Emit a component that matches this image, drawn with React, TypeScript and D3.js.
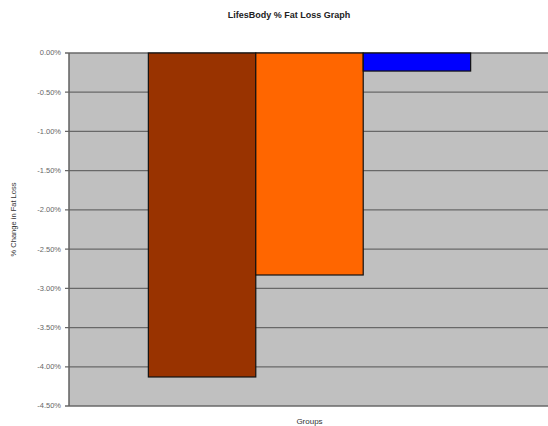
import React from "react";
import * as d3 from "d3";

const categories = ["Groups"];
const seriesNames = ["Series 1", "Series 2", "Series 3"];
const seriesValues = [-4.13, -2.83, -0.23];
const seriesColors = ["#993300", "#FF6600", "#0000FF"];
const yTicks = [0, -0.5, -1, -1.5, -2, -2.5, -3, -3.5, -4, -4.5];

const W = 548;
const H = 426;
const plot = { left: 69, right: 548, top: 53, bottom: 406 };

export default function App() {
  const y = d3.scaleLinear().domain([0, -4.5]).range([plot.top, plot.bottom]);
  const x0 = d3
    .scaleBand<string>()
    .domain(categories)
    .range([plot.left + 2, plot.right])
    .paddingInner(0)
    .paddingOuter(0.24);
  const x1 = d3
    .scaleBand<string>()
    .domain(seriesNames)
    .range([0, x0.bandwidth()]);
  const fmt = (v: number) => v.toFixed(2) + "%";
  const font = "Arial, 'Liberation Sans', sans-serif";

  return (
    <div style={{ position: "fixed", left: 0, top: 0 }}>
      <svg width={W} height={H} style={{ display: "block" }} fontFamily={font}>
        <rect x={0} y={0} width={W} height={H} fill="#ffffff" />
        <text x={289} y={18} textAnchor="middle" fontSize={9} fontWeight="bold" fill="#222">
          LifesBody % Fat Loss Graph
        </text>
        <rect
          x={plot.left}
          y={plot.top}
          width={plot.right - plot.left}
          height={plot.bottom - plot.top}
          fill="#c0c0c0"
        />
        {yTicks.map((t) => (
          <g key={t}>
            <line
              x1={plot.left - 4}
              x2={plot.right}
              y1={y(t)}
              y2={y(t)}
              stroke="#686868"
              strokeWidth={1.3}
            />
            <text
              x={plot.left - 8}
              y={y(t)}
              dy="0.33em"
              textAnchor="end"
              fontSize={7.5}
              fill="#666"
            >
              {fmt(t)}
            </text>
          </g>
        ))}
        <line
          x1={plot.left}
          x2={plot.left}
          y1={plot.top}
          y2={plot.bottom}
          stroke="#606060"
          strokeWidth={1.5}
        />
        {categories.map((c) => (
          <g key={c} transform={`translate(${x0(c)},0)`}>
            {seriesNames.map((s, i) => (
              <rect
                key={s}
                x={x1(s)}
                y={y(0)}
                width={x1.bandwidth()}
                height={y(seriesValues[i]) - y(0)}
                fill={seriesColors[i]}
                stroke="#111"
                strokeWidth={1.2}
              />
            ))}
          </g>
        ))}
        {categories.map((c) => (
          <text
            key={c}
            x={(x0(c) ?? 0) + x0.bandwidth() / 2}
            y={424}
            textAnchor="middle"
            fontSize={8}
            fill="#333"
          >
            {c}
          </text>
        ))}
        <text
          transform={`translate(16,${(plot.top + plot.bottom) / 2 - 10}) rotate(-90)`}
          textAnchor="middle"
          fontSize={7.5}
          fill="#333"
        >
          % Change in Fat Loss
        </text>
      </svg>
    </div>
  );
}
